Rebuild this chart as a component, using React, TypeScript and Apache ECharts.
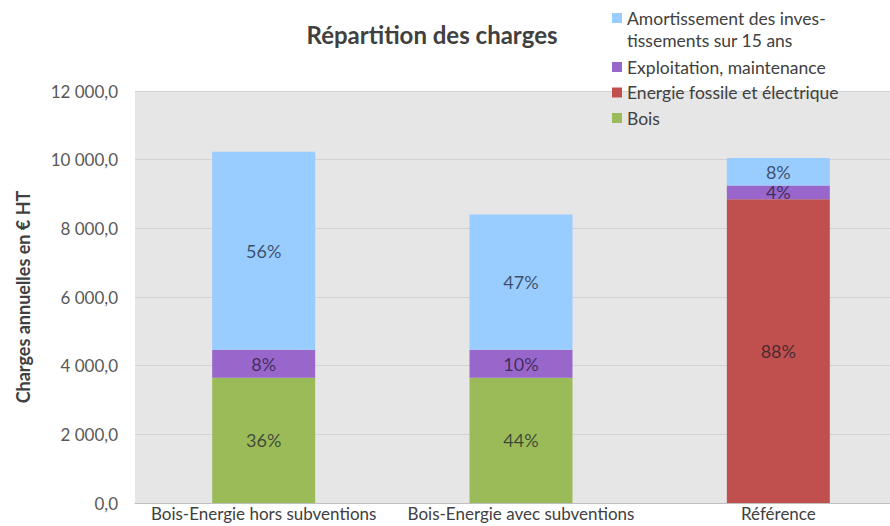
import React, { useEffect, useRef } from "react";
import * as echarts from "echarts";

const categories = [
  "Bois-Energie hors subventions",
  "Bois-Energie avec subventions",
  "Référence",
];
const seriesNames = [
  "Bois",
  "Energie fossile et électrique",
  "Exploitation, maintenance",
  "Amortissement des inves-\ntissements sur 15 ans",
];
const bois = [3650, 3650, 0];
const energie = [0, 0, 8850];
const exploitation = [810, 810, 400];
const amortissement = [5770, 3940, 800];

const pctBois = ["36%", "44%", ""];
const pctEnergie = ["", "", "88%"];
const pctExploitation = ["8%", "10%", "4%"];
const pctAmortissement = ["56%", "47%", "8%"];

const yTicks = { min: 0, max: 12000, interval: 2000 };

const FONT = "Lato, 'Noto Sans', sans-serif";

function fmt(v: number) {
  const s = Math.round(v).toString().replace(/\B(?=(\d{3})+(?!\d))/g, " ");
  return s + ",0";
}

export default function App() {
  const ref = useRef<HTMLDivElement>(null);
  useEffect(() => {
    if (!ref.current) return;
    const chart = echarts.init(ref.current, undefined, { renderer: "svg" });
    const colors = ["#9bbb59", "#c0504d", "#9966cc", "#99ccff"];
    const datas = [bois, energie, exploitation, amortissement];
    const pcts = [pctBois, pctEnergie, pctExploitation, pctAmortissement];
    const legendText = { fontFamily: FONT, fontSize: 17.5, color: "#404040" };
    chart.setOption({
      animation: false,
      backgroundColor: "#ffffff",
      textStyle: { fontFamily: FONT },
      title: {
        text: "Répartition des charges",
        left: 432,
        top: 22,
        padding: 0,
        textAlign: "center",
        textStyle: { fontFamily: FONT, fontSize: 24, fontWeight: "bold", color: "#404040" },
      },
      legend: [
        {
          data: [seriesNames[3]],
          left: 612,
          top: 9,
          padding: 0,
          icon: "rect",
          itemWidth: 10,
          itemHeight: 10,
          formatter: (n: string) => n.split("\n")[0],
          textStyle: legendText,
        },
        {
          data: [seriesNames[2], seriesNames[1], seriesNames[0]],
          orient: "vertical",
          left: 612,
          top: 58,
          padding: 0,
          icon: "rect",
          itemWidth: 10,
          itemHeight: 10,
          itemGap: 7.5,
          textStyle: legendText,
        },
      ],
      graphic: [
        {
          type: "text",
          left: 627,
          top: 31,
          style: {
            text: "tissements sur 15 ans",
            fontFamily: FONT,
            fontSize: 17.5,
            fill: "#404040",
          },
        },
      ],
      grid: {
        left: 135,
        top: 91,
        bottom: 23,
        right: 0,
        show: true,
        backgroundColor: "#e6e6e6",
        borderWidth: 0,
      },
      xAxis: {
        type: "category",
        data: categories,
        axisTick: { show: false },
        axisLine: { lineStyle: { color: "#bfbfbf" } },
        axisLabel: {
          interval: 0,
          fontFamily: FONT,
          fontSize: 17,
          color: "#404040",
          margin: 2,
        },
      },
      yAxis: {
        type: "value",
        min: yTicks.min,
        max: yTicks.max,
        interval: yTicks.interval,
        name: "Charges annuelles en € HT",
        nameLocation: "middle",
        nameGap: 103,
        nameTextStyle: { fontFamily: FONT, fontSize: 18, fontWeight: "bold", color: "#404040" },
        axisLine: { show: false },
        axisTick: { show: false },
        splitLine: { lineStyle: { color: "#d2d2d2", width: 1 } },
        axisLabel: {
          fontFamily: FONT,
          fontSize: 17,
          color: "#595959",
          margin: 17,
          formatter: (v: number) => fmt(v),
        },
      },
      series: datas.map((d, i) => ({
        type: "bar",
        name: seriesNames[i],
        stack: "total",
        data: d,
        barWidth: 103,
        itemStyle: { color: colors[i] },
        label: {
          show: true,
          position: "inside",
          fontFamily: FONT,
          fontSize: 18,
          color: "rgba(25,25,45,0.72)",
          formatter: (p: any) => pcts[i][p.dataIndex] || "",
        },
      })),
    });
    return () => chart.dispose();
  }, []);
  return (
    <div
      style={{
        position: "fixed",
        left: 0,
        top: 0,
        width: 890,
        height: 526,
        overflow: "hidden",
      }}
    >
      <div ref={ref} style={{ width: 907, height: 526 }} />
    </div>
  );
}
